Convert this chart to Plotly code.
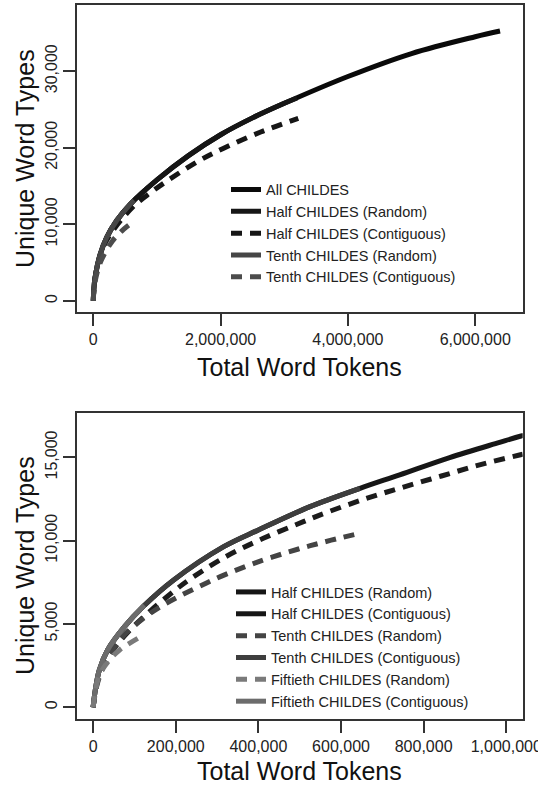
import plotly.graph_objects as go

# ---------------- Top panel data ----------------
top_all_x = [0, 8e3, 27e3, 105e3, 211e3, 368e3, 577e3, 1.0e6, 1.5e6, 2.0e6, 2.5e6, 3.0e6, 4.0e6, 5.0e6, 6.0e6, 6.39e6]
top_all_y = [0, 1500, 3000, 6000, 8300, 10500, 12600, 15800, 19000, 21700, 23900, 25800, 29300, 32300, 34500, 35240]

top_half_rand_x = [0, 8e3, 27e3, 105e3, 211e3, 368e3, 577e3, 1.0e6, 1.5e6, 2.0e6, 2.5e6, 3.0e6, 3.2e6]
top_half_rand_y = [0, 1500, 3000, 6000, 8300, 10500, 12600, 15800, 19000, 21700, 23900, 25800, 26500]

top_half_cont_x = [0, 10e3, 40e3, 150e3, 300e3, 639e3, 902e3, 1.12e6, 1.66e6, 2.04e6, 2.63e6, 3.22e6]
top_half_cont_y = [0, 1600, 3500, 6900, 9100, 12400, 14150, 15450, 18300, 19900, 22050, 23830]

top_tenth_rand_x = [0, 8e3, 27e3, 105e3, 211e3, 368e3, 577e3, 640e3]
top_tenth_rand_y = [0, 1500, 3000, 6000, 8300, 10500, 12600, 13150]

top_tenth_cont_x = [0, 10e3, 40e3, 120e3, 298e3, 450e3, 534e3, 600e3]
top_tenth_cont_y = [0, 1400, 3000, 5200, 7800, 9150, 9750, 10150]

top_names = ["All CHILDES", "Half CHILDES (Random)", "Half CHILDES (Contiguous)",
             "Tenth CHILDES (Random)", "Tenth CHILDES (Contiguous)"]
top_xticks = [0, 2000000, 4000000, 6000000]
top_yticks = [0, 10000, 20000, 30000]

# ---------------- Bottom panel data ----------------
bot_a_x = [0, 5e3, 15e3, 35e3, 76e3, 123e3, 195e3, 316e3, 400e3, 525e3, 646e3, 742e3, 863e3, 984e3, 1.036e6, 1.1e6]
bot_a_y = [0, 1000, 2240, 3440, 4840, 6090, 7640, 9640, 10640, 12040, 13140, 13950, 14990, 15900, 16280, 16700]

bot_b_x = [0, 10e3, 20e3, 50e3, 88e3, 130e3, 187e3, 235e3, 324e3, 412e3, 509e3, 553e3, 650e3, 746e3, 843e3, 940e3, 1.032e6, 1.1e6]
bot_b_y = [0, 1500, 2200, 3500, 4600, 5600, 6800, 7700, 9080, 10140, 11140, 11580, 12440, 13180, 13880, 14580, 15140, 15550]

bot_c_x = [0, 5e3, 15e3, 35e3, 76e3, 123e3, 195e3, 316e3, 400e3, 525e3, 646e3]
bot_c_y = [0, 1000, 2240, 3440, 4840, 6090, 7640, 9640, 10640, 12040, 13140]

bot_d_x = [0, 10e3, 30e3, 70e3, 122e3, 163e3, 211e3, 259e3, 308e3, 396e3, 497e3, 541e3, 589e3, 638e3]
bot_d_y = [0, 1400, 2700, 4200, 5340, 6040, 6700, 7280, 7840, 8700, 9500, 9800, 10110, 10400]

bot_e_x = [0, 5e3, 15e3, 35e3, 76e3, 124e3]
bot_e_y = [0, 1000, 2240, 3440, 4840, 6120]

bot_f_x = [0, 5e3, 15e3, 35e3, 64e3, 108e3]
bot_f_y = [0, 900, 1900, 2700, 3440, 4140]

bot_names = ["Half CHILDES (Random)", "Half CHILDES (Contiguous)", "Tenth CHILDES (Random)",
             "Tenth CHILDES (Contiguous)", "Fiftieth CHILDES (Random)", "Fiftieth CHILDES (Contiguous)"]
bot_xticks = [0, 200000, 400000, 600000, 800000, 1000000]
bot_yticks = [0, 5000, 10000, 15000]

FONT = "Liberation Sans, Arial, sans-serif"
W = 538
H = 787
LW = 5
DASH = "11px,8px"

fig = go.Figure()


def add(x, y, name, color, dash, xa, ya, legend, rank=None, showlegend=True):
    fig.add_trace(go.Scatter(
        x=x, y=y, name=name, mode="lines",
        line=dict(color=color, width=LW, dash=dash, shape="spline", smoothing=1.0),
        xaxis=xa, yaxis=ya, legend=legend, showlegend=showlegend,
        legendrank=rank if rank is not None else 1000, hoverinfo="skip",
    ))


# top panel traces
add(top_all_x, top_all_y, top_names[0], "#0a0a0a", "solid", "x", "y", "legend", 1)
add(top_half_rand_x, top_half_rand_y, top_names[1], "#161616", "solid", "x", "y", "legend", 2)
add(top_half_cont_x, top_half_cont_y, top_names[2], "#161616", DASH, "x", "y", "legend", 3)
add(top_tenth_rand_x, top_tenth_rand_y, top_names[3], "#464646", "solid", "x", "y", "legend", 4)
add(top_tenth_cont_x, top_tenth_cont_y, top_names[4], "#4c4c4c", DASH, "x", "y", "legend", 5)

# bottom panel traces
add(bot_a_x, bot_a_y, bot_names[0], "#161616", "solid", "x2", "y2", "legend2", 1)
add([None], [None], bot_names[1], "#161616", "solid", "x2", "y2", "legend2", 2)
add(bot_b_x, bot_b_y, "Half CHILDES (Contiguous) data", "#1c1c1c", DASH, "x2", "y2", "legend2", 99, showlegend=False)
add(bot_c_x, bot_c_y, bot_names[3], "#3e3e3e", "solid", "x2", "y2", "legend2", 4)
add(bot_d_x, bot_d_y, bot_names[2], "#444444", DASH, "x2", "y2", "legend2", 3)
add(bot_e_x, bot_e_y, bot_names[5], "#6c6c6c", "solid", "x2", "y2", "legend2", 6)
add(bot_f_x, bot_f_y, bot_names[4], "#7a7a7a", DASH, "x2", "y2", "legend2", 5)

xdom = [76.7 / W, 522.7 / W]
top_dom = [1 - 312.3 / H, 1 - 5.3 / H]
bot_dom = [1 - 719.3 / H, 1 - 412.7 / H]

axis_common = dict(
    showgrid=False, zeroline=False, showline=True, mirror=True,
    linecolor="#333333", linewidth=1.5,
    ticks="outside", ticklen=12, tickwidth=1.5, tickcolor="#333333",
    tickfont=dict(family=FONT, size=16, color="#222222"),
    tickformat=",d", automargin=False, ticklabeloverflow="allow",
)

fig.update_layout(
    width=W, height=H,
    margin=dict(l=0, r=0, t=0, b=0),
    paper_bgcolor="white", plot_bgcolor="white",
    font=dict(family=FONT, color="#222222"),
    xaxis=dict(domain=xdom, anchor="y", range=[-261000, 6746000], tickvals=top_xticks, **axis_common),
    yaxis=dict(domain=top_dom, anchor="x", range=[-1490, 38600], tickvals=top_yticks, tickangle=-90, **axis_common),
    xaxis2=dict(domain=xdom, anchor="y2", range=[-39800, 1039800], tickvals=bot_xticks, **axis_common),
    yaxis2=dict(domain=bot_dom, anchor="x2", range=[-720, 17680], tickvals=bot_yticks, tickangle=-90, **axis_common),
    legend=dict(x=226 / W, xanchor="left", y=1 - 173.5 / H, yanchor="top",
                bgcolor="rgba(0,0,0,0)", borderwidth=0,
                font=dict(family=FONT, size=14.5, color="#222222"), traceorder="normal"),
    legend2=dict(x=231 / W, xanchor="left", y=1 - 576 / H, yanchor="top",
                 bgcolor="rgba(0,0,0,0)", borderwidth=0,
                 font=dict(family=FONT, size=14.5, color="#222222"), traceorder="normal"),
    showlegend=True,
)

title_font = dict(family=FONT, size=25, color="#111111")
fig.add_annotation(text="Total Word Tokens", x=299.8 / W, y=1 - 367 / H, xref="paper", yref="paper",
                   showarrow=False, font=title_font, xanchor="center", yanchor="middle")
fig.add_annotation(text="Unique Word Types", x=25 / W, y=1 - 159 / H, xref="paper", yref="paper",
                   showarrow=False, font=title_font, textangle=-90, xanchor="center", yanchor="middle")
fig.add_annotation(text="Total Word Tokens", x=299.8 / W, y=1 - 771 / H, xref="paper", yref="paper",
                   showarrow=False, font=title_font, xanchor="center", yanchor="middle")
fig.add_annotation(text="Unique Word Types", x=25 / W, y=1 - 566 / H, xref="paper", yref="paper",
                   showarrow=False, font=title_font, textangle=-90, xanchor="center", yanchor="middle")

fig.write_html("out.html", config={"displayModeBar": False},
               post_script="document.body.style.margin='0px';document.body.style.overflow='hidden';")
